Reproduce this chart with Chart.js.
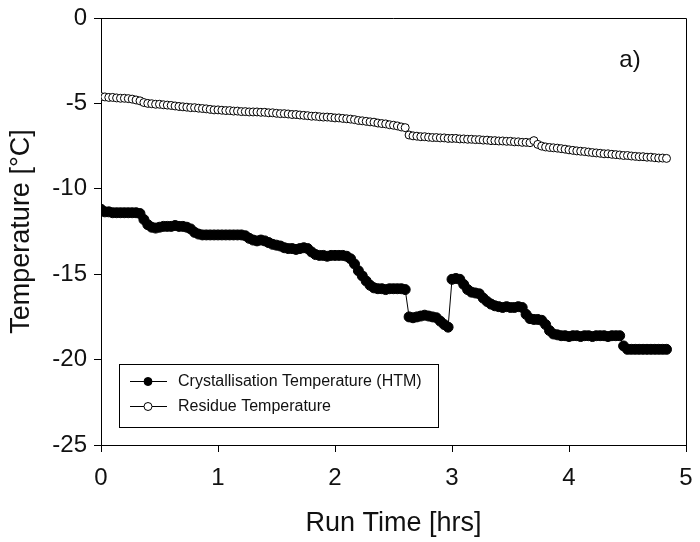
<!DOCTYPE html>
<html>
<head>
<meta charset="utf-8">
<script src="https://cdn.jsdelivr.net/npm/chart.js@4/dist/chart.umd.min.js"></script>
<style>
html,body{margin:0;padding:0;background:#fff;}
#c{display:block;}
</style>
</head>
<body>
<canvas id="c" width="700" height="542"></canvas>
<script>
// Run time in minutes
const runTimeMin = [
0,2,4,6,8,10,12,14,16,18,20,22,24,26,28,30,32,34,36,38,
40,42,44,46,48,50,52,54,56,58,60,62,64,66,68,70,72,74,76,78,
80,82,84,86,88,90,92,94,96,98,100,102,104,106,108,110,112,114,116,118,
120,122,124,126,128,130,132,134,136,138,140,142,144,146,148,150,152,154,156,158,
160,162,164,166,168,170,172,174,176,178,180,182,184,186,188,190,192,194,196,198,
200,202,204,206,208,210,212,214,216,218,220,222,224,226,228,230,232,234,236,238,
240,242,244,246,248,250,252,254,256,258,260,262,264,266,268,270,272,274,276,278,
280,282,284,286,288,290
];
// Crystallisation Temperature (HTM), °C
const crystTemp = [
-11.2,-11.35,-11.35,-11.4,-11.4,-11.4,-11.4,-11.4,-11.4,-11.4,
-11.45,-11.8,-12.1,-12.25,-12.3,-12.25,-12.2,-12.2,-12.2,-12.15,
-12.2,-12.2,-12.25,-12.35,-12.55,-12.65,-12.7,-12.7,-12.7,-12.7,
-12.7,-12.7,-12.7,-12.7,-12.7,-12.7,-12.7,-12.75,-12.9,-13.0,
-13.05,-13.0,-13.05,-13.15,-13.25,-13.3,-13.35,-13.45,-13.5,-13.5,
-13.55,-13.5,-13.45,-13.5,-13.7,-13.85,-13.9,-13.9,-13.95,-13.9,
-13.9,-13.9,-13.9,-13.95,-14.1,-14.4,-14.8,-15.1,-15.4,-15.65,
-15.8,-15.85,-15.85,-15.9,-15.85,-15.85,-15.85,-15.85,-15.9,-17.5,
-17.55,-17.5,-17.45,-17.4,-17.45,-17.5,-17.55,-17.75,-17.95,-18.1,
-15.3,-15.25,-15.3,-15.6,-15.9,-16.05,-16.1,-16.15,-16.4,-16.6,
-16.75,-16.85,-16.9,-16.95,-16.9,-16.95,-16.95,-16.9,-16.95,-17.35,
-17.6,-17.65,-17.65,-17.7,-17.95,-18.3,-18.5,-18.55,-18.6,-18.6,
-18.65,-18.6,-18.6,-18.65,-18.6,-18.6,-18.65,-18.6,-18.6,-18.6,
-18.65,-18.6,-18.6,-18.6,-19.2,-19.4,-19.4,-19.4,-19.4,-19.4,
-19.4,-19.4,-19.4,-19.4,-19.4,-19.4
];
// Residue Temperature, °C
const residueTemp = [
-4.6,-4.62,-4.65,-4.65,-4.68,-4.7,-4.7,-4.72,-4.75,-4.8,
-4.85,-4.95,-5.0,-5.02,-5.05,-5.05,-5.08,-5.1,-5.12,-5.15,
-5.18,-5.2,-5.22,-5.25,-5.25,-5.28,-5.3,-5.32,-5.35,-5.38,
-5.38,-5.4,-5.42,-5.42,-5.45,-5.45,-5.48,-5.48,-5.5,-5.5,
-5.5,-5.52,-5.52,-5.55,-5.55,-5.58,-5.6,-5.6,-5.62,-5.65,
-5.65,-5.68,-5.7,-5.72,-5.75,-5.75,-5.78,-5.8,-5.8,-5.82,
-5.85,-5.85,-5.88,-5.9,-5.92,-5.95,-6.0,-6.02,-6.05,-6.08,
-6.1,-6.15,-6.18,-6.2,-6.25,-6.28,-6.32,-6.38,-6.42,-6.85,
-6.9,-6.92,-6.95,-6.95,-6.98,-7.0,-7.0,-7.02,-7.02,-7.05,
-7.05,-7.05,-7.08,-7.08,-7.1,-7.1,-7.12,-7.12,-7.15,-7.15,
-7.18,-7.18,-7.2,-7.2,-7.22,-7.22,-7.25,-7.25,-7.28,-7.28,
-7.3,-7.18,-7.4,-7.5,-7.55,-7.58,-7.6,-7.62,-7.65,-7.68,
-7.72,-7.75,-7.78,-7.8,-7.82,-7.85,-7.88,-7.9,-7.92,-7.95,
-7.95,-7.98,-8.0,-8.02,-8.05,-8.05,-8.08,-8.1,-8.12,-8.12,
-8.15,-8.15,-8.18,-8.2,-8.2,-8.22
];
const seriesNames = ['Crystallisation Temperature (HTM)', 'Residue Temperature'];
const xTickValues = [0, 1, 2, 3, 4, 5];
const yTickValues = [-25, -20, -15, -10, -5, 0];
const panelLabel = 'a)';
const xTitle = 'Run Time [hrs]';
const yTitle = 'Temperature [°C]';

const toPoints = (vals) => vals.map((v, i) => ({x: runTimeMin[i] / 60, y: v}));

const FONT = '"Liberation Sans", Arial, sans-serif';

const frameAndLegend = {
  id: 'frameAndLegend',
  afterDraw(chart) {
    const {ctx, chartArea: a} = chart;
    ctx.save();
    ctx.strokeStyle = '#000';
    ctx.lineWidth = 1;
    ctx.beginPath();
    ctx.moveTo(a.left, a.top + 0.5);
    ctx.lineTo(a.right + 0.5, a.top + 0.5);
    ctx.lineTo(a.right + 0.5, a.bottom);
    ctx.stroke();
    // panel label
    ctx.fillStyle = '#111';
    ctx.font = '24px ' + FONT;
    ctx.textAlign = 'center';
    ctx.textBaseline = 'middle';
    ctx.fillText(panelLabel, 630, 60);
    // legend box
    const bx = 119, by = 364, bw = 319, bh = 63;
    ctx.lineWidth = 1;
    ctx.strokeStyle = '#000';
    ctx.strokeRect(bx + 0.5, by + 0.5, bw, bh);
    const rows = [381, 406];
    chart.data.datasets.forEach((ds, i) => {
      const y = rows[i];
      ctx.beginPath();
      ctx.strokeStyle = ds.borderColor;
      ctx.lineWidth = 1;
      ctx.moveTo(130, y + 0.5);
      ctx.lineTo(167, y + 0.5);
      ctx.stroke();
      ctx.beginPath();
      ctx.arc(148, y + 0.5, 4, 0, Math.PI * 2);
      ctx.fillStyle = ds.pointBackgroundColor;
      ctx.fill();
      ctx.strokeStyle = ds.pointBorderColor;
      ctx.lineWidth = ds.pointBorderWidth;
      ctx.stroke();
      ctx.fillStyle = '#111';
      ctx.font = '16px ' + FONT;
      ctx.textAlign = 'left';
      ctx.textBaseline = 'middle';
      ctx.fillText(ds.label, 178, y + 1);
    });
    ctx.restore();
  }
};

new Chart(document.getElementById('c'), {
  type: 'line',
  data: {
    datasets: [
      {
        label: seriesNames[0],
        data: toPoints(crystTemp),
        borderColor: '#000',
        borderWidth: 1,
        pointRadius: 5,
        pointBackgroundColor: '#000',
        pointBorderColor: '#000',
        pointBorderWidth: 1,
        tension: 0
      },
      {
        label: seriesNames[1],
        data: toPoints(residueTemp),
        borderColor: '#000',
        borderWidth: 1,
        pointRadius: 4,
        pointBackgroundColor: '#fff',
        pointBorderColor: '#000',
        pointBorderWidth: 1,
        tension: 0
      }
    ]
  },
  options: {
    responsive: false,
    animation: false,
    layout: {padding: {top: 18, right: 14, left: 0, bottom: 0}},
    plugins: {legend: {display: false}, tooltip: {enabled: false}},
    scales: {
      x: {
        type: 'linear',
        min: 0, max: 5,
        afterBuildTicks(s) { s.ticks = xTickValues.map(v => ({value: v})); },
        afterFit(s) { s.height = 97; s.paddingLeft = 0; s.paddingRight = 0; },
        grid: {display: true, drawOnChartArea: false, drawTicks: true, tickLength: 7, color: '#000', lineWidth: 1},
        border: {display: true, color: '#000', width: 1},
        ticks: {color: '#111', font: {family: FONT, size: 24}, padding: 12, maxRotation: 0},
        title: {display: true, text: xTitle, color: '#111', font: {family: FONT, size: 27, lineHeight: 1}, padding: {top: 0, bottom: 5}}
      },
      y: {
        type: 'linear',
        min: -25, max: 0,
        afterBuildTicks(s) { s.ticks = yTickValues.map(v => ({value: v})); },
        afterFit(s) { s.width = 101; s.paddingTop = 0; s.paddingBottom = 0; },
        grid: {display: true, drawOnChartArea: false, drawTicks: true, tickLength: 7, color: '#000', lineWidth: 1},
        border: {display: true, color: '#000', width: 1},
        ticks: {color: '#111', font: {family: FONT, size: 24}, padding: 7},
        title: {display: true, text: yTitle, color: '#111', font: {family: FONT, size: 27, lineHeight: 1}, padding: {top: 8, bottom: 0}}
      }
    }
  },
  plugins: [frameAndLegend]
});
</script>
</body>
</html>
